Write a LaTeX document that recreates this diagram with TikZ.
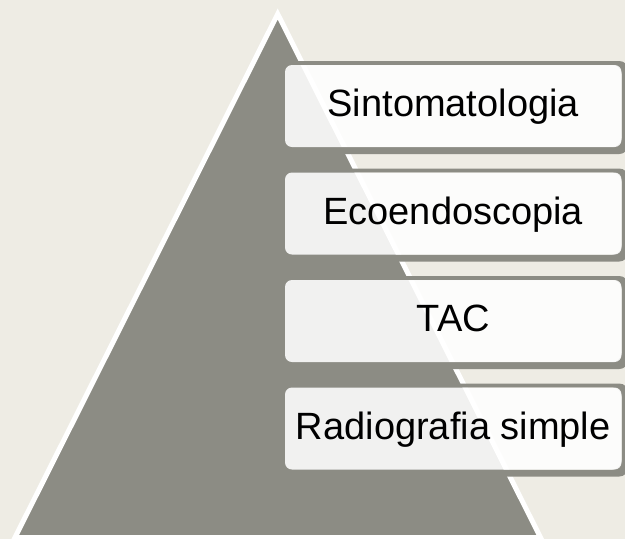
\documentclass[tikz,border=0pt]{standalone}
\usepackage{fontspec}
\setmainfont{Liberation Sans}
\usetikzlibrary{calc}
\definecolor{bgbeige}{RGB}{238,236,228}
\definecolor{trigray}{RGB}{140,140,132}
\tikzset{
  levelbox/.style={fill=white, fill opacity=0.88, text opacity=1, text=black,
    rounded corners=7pt, minimum width=336.5pt, minimum height=82pt,
    inner sep=0pt, text height=28pt, text depth=7pt,
    font=\fontsize{38}{40}\selectfont},
  frame/.style={fill=trigray, even odd rule, rounded corners=9pt},
  pyramid/.style={fill=trigray, draw=white, line width=5pt, line join=miter}
}
\begin{document}
\begin{tikzpicture}[x=1pt,y=-1pt]
\useasboundingbox (0,0) rectangle (625,539);
\clip (0,0) rectangle (625,539);
\fill[bgbeige] (0,0) rectangle (625,539);
\coordinate (apex) at (277.7,14);
\coordinate (bl) at (15,537.5);
\coordinate (br) at (540.5,537.5);
\filldraw[pyramid] (apex) -- (br) -- (bl) -- cycle;
\foreach \i/\t in {0/Sintomatologia,1/Ecoendoscopia,2/TAC,3/Radiografia simple}{
  \path ($(453.25,106)+(0,107.5*\i)$) coordinate (c\i);
  \fill[frame] ($(c\i)+(-172.25,-45)$) rectangle ($(c\i)+(175,48)$)
               ($(c\i)+(-168.25,-41)$) rectangle ($(c\i)+(168.25,41)$);
  \node[levelbox] (b\i) at (c\i) {\t};
}
\end{tikzpicture}
\end{document}
